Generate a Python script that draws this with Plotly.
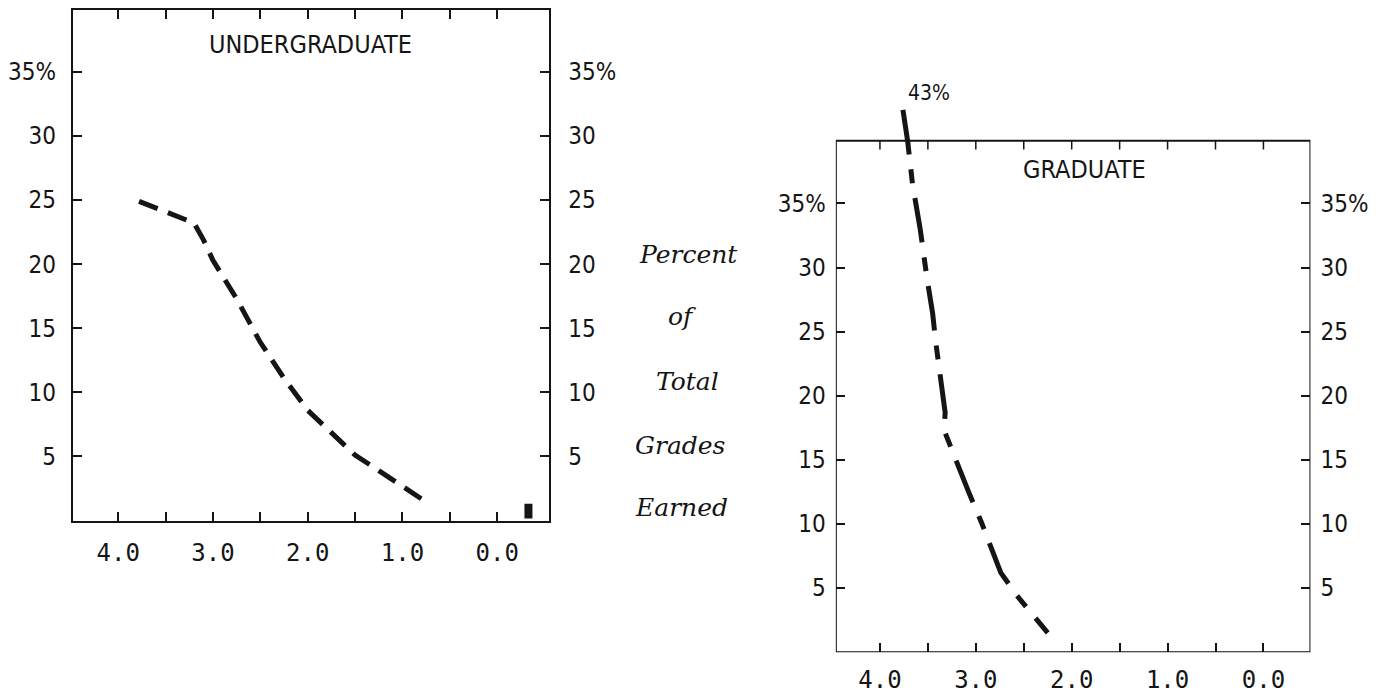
import plotly.graph_objects as go

# ---- data ----
ug_x = [3.78, 3.56, 3.30, 3.20, 3.10, 3.00, 2.75, 2.50, 2.25, 2.00, 1.75, 1.50, 1.25, 1.00, 0.72]
ug_y = [24.9, 24.3, 23.5, 23.2, 21.9, 20.3, 17.3, 13.9, 11.1, 8.6, 6.8, 5.1, 3.9, 2.7, 1.3]
ug_zero_x = [-0.33, -0.33]
ug_zero_y = [0.15, 1.3]
gr_x = [3.76, 3.71, 3.66, 3.60, 3.58, 3.51, 3.45, 3.42, 3.36, 3.32, 3.33, 3.20, 3.07, 2.94, 2.74, 2.57, 2.40, 2.25]
gr_y = [42.3, 39.8, 36.5, 34.2, 33.0, 29.2, 26.4, 24.3, 21.2, 18.7, 17.3, 14.8, 12.4, 10.1, 6.2, 4.4, 2.9, 1.5]
gr_peak_label = "43%"

y_ticks = [5, 10, 15, 20, 25, 30, 35]
y_labels = ["5", "10", "15", "20", "25", "30", "35%"]
x_ticks = [4, 3, 2, 1, 0]
x_labels = ["4.0", "3.0", "2.0", "1.0", "0.0"]
x_minor = [3.5, 2.5, 1.5, 0.5]
top_ticks = [4.0, 3.5, 3.0, 2.5, 2.0, 1.5, 1.0, 0.5, 0.0]
side_words = ["Percent", "of", "Total", "Grades", "Earned"]

W, H = 1387, 695
OFF = 8  # page body margin
INK = "#151515"
SANS = "Liberation Sans Narrow, DejaVu Sans Condensed, Roboto Condensed, Arial Narrow, sans-serif"
MONO = "DejaVu Sans Mono, Liberation Mono, monospace"
SCRIPT = "DejaVu Serif, Liberation Serif, serif"

# pixel geometry measured on the reference
L_left, L_right, L_top, L_bot = 66, 545, 8, 520
R_left, R_right, R_bot = 833, 1310, 652
SCALE = 12.857  # px per percent

ul_xr = [4.48, -0.55]
ul_yr = [0, (L_bot - L_top) / SCALE]
gr_xr = [4.46, -0.49]
gr_box_top = 39.9
gr_yr = [0, 43.5]
R_top_dom = R_bot - gr_yr[1] * SCALE


def px(x):
    return (x - OFF) / W


def py(y):
    return 1 - (y - OFF) / H


fig = go.Figure()

fig.add_trace(go.Scatter(x=ug_x, y=ug_y, mode="lines", xaxis="x", yaxis="y",
                         line=dict(color=INK, width=5, dash="20px,11px"),
                         showlegend=False, hoverinfo="skip"))
fig.add_trace(go.Scatter(x=ug_zero_x, y=ug_zero_y, mode="lines", xaxis="x", yaxis="y",
                         line=dict(color=INK, width=8),
                         showlegend=False, hoverinfo="skip"))
fig.add_trace(go.Scatter(x=gr_x, y=gr_y, mode="lines", xaxis="x2", yaxis="y2",
                         line=dict(color=INK, width=5, dash="45px,15px,14px,15px"),
                         showlegend=False, hoverinfo="skip"))
# empty traces so the mirrored right-hand label axes are drawn
fig.add_trace(go.Scatter(x=[None], y=[None], xaxis="x", yaxis="y3", mode="lines",
                         showlegend=False, hoverinfo="skip"))
fig.add_trace(go.Scatter(x=[None], y=[None], xaxis="x2", yaxis="y4", mode="lines",
                         showlegend=False, hoverinfo="skip"))

tickfont_y = dict(family=SANS, size=24, color=INK)
tickfont_x = dict(family=MONO, size=24, color=INK)

common_y = dict(tickmode="array", tickvals=y_ticks, ticktext=y_labels, ticks="inside",
                ticklen=9, tickwidth=1.5, tickcolor=INK, showgrid=False, zeroline=False,
                tickfont=tickfont_y, fixedrange=True)
common_x = dict(tickmode="array", tickvals=x_ticks, ticktext=x_labels, ticks="inside",
                ticklen=9, tickwidth=1.5, tickcolor=INK, showgrid=False, zeroline=False,
                tickfont=tickfont_x, fixedrange=True,
                minor=dict(tickvals=x_minor, ticks="inside", ticklen=9, tickwidth=1.5,
                           tickcolor=INK, showgrid=False))

fig.update_layout(
    width=W, height=H, margin=dict(l=0, r=0, t=0, b=0),
    paper_bgcolor="white", plot_bgcolor="white", showlegend=False,
    xaxis=dict(domain=[px(L_left), px(L_right)], range=ul_xr, anchor="y",
               showline=True, linecolor=INK, linewidth=2, mirror="ticks",
               ticklabelstandoff=10, **common_x),
    yaxis=dict(domain=[py(L_bot), py(L_top)], range=ul_yr, anchor="x",
               showline=True, linecolor=INK, linewidth=2, mirror=True,
               ticklabelstandoff=10, **common_y),
    yaxis3=dict(overlaying="y", side="right", range=ul_yr, anchor="x",
                showline=False, ticklabelstandoff=18, **common_y),
    xaxis2=dict(domain=[px(R_left), px(R_right)], range=gr_xr, anchor="y2",
                showline=False, ticklabelstandoff=11, **common_x),
    yaxis2=dict(domain=[py(R_bot), py(R_top_dom)], range=gr_yr, anchor="x2",
                showline=False, ticklabelstandoff=9, **common_y),
    yaxis4=dict(overlaying="y2", side="right", range=gr_yr, anchor="x2",
                showline=False, ticklabelstandoff=9, **common_y),
)

# graduate frame (top edge sits below the 43% peak)
fig.add_shape(type="rect", xref="x2", yref="y2", x0=gr_xr[0], x1=gr_xr[1], y0=0, y1=gr_box_top,
              line=dict(color=INK, width=2), layer="above")
for t in top_ticks:
    fig.add_shape(type="line", xref="x2", yref="y2", x0=t, x1=t, y0=gr_box_top, y1=gr_box_top - 0.7,
                  line=dict(color=INK, width=1.5))

# titles
fig.add_annotation(text="UNDERGRADUATE", x=px(305), y=py(43), xref="paper", yref="paper",
                   xanchor="center", yanchor="middle", showarrow=False,
                   font=dict(family=SANS, size=25, color=INK))
fig.add_annotation(text="GRADUATE", x=px(1083), y=py(168), xref="paper", yref="paper",
                   xanchor="center", yanchor="middle", showarrow=False,
                   font=dict(family=SANS, size=25, color=INK))
fig.add_annotation(text=gr_peak_label, x=px(927), y=py(91), xref="paper", yref="paper",
                   xanchor="center", yanchor="middle", showarrow=False,
                   font=dict(family=SANS, size=21, color=INK))

# side label
side_pos = [(685, 253), (678, 315), (684, 381), (676, 445), (678, 507)]
for w, (sx, sy) in zip(side_words, side_pos):
    fig.add_annotation(text=w, x=px(sx), y=py(sy), xref="paper", yref="paper",
                       xanchor="center", yanchor="middle", showarrow=False,
                       font=dict(family=SCRIPT, size=25, color=INK, style="italic"))

fig.write_html("out.html")
